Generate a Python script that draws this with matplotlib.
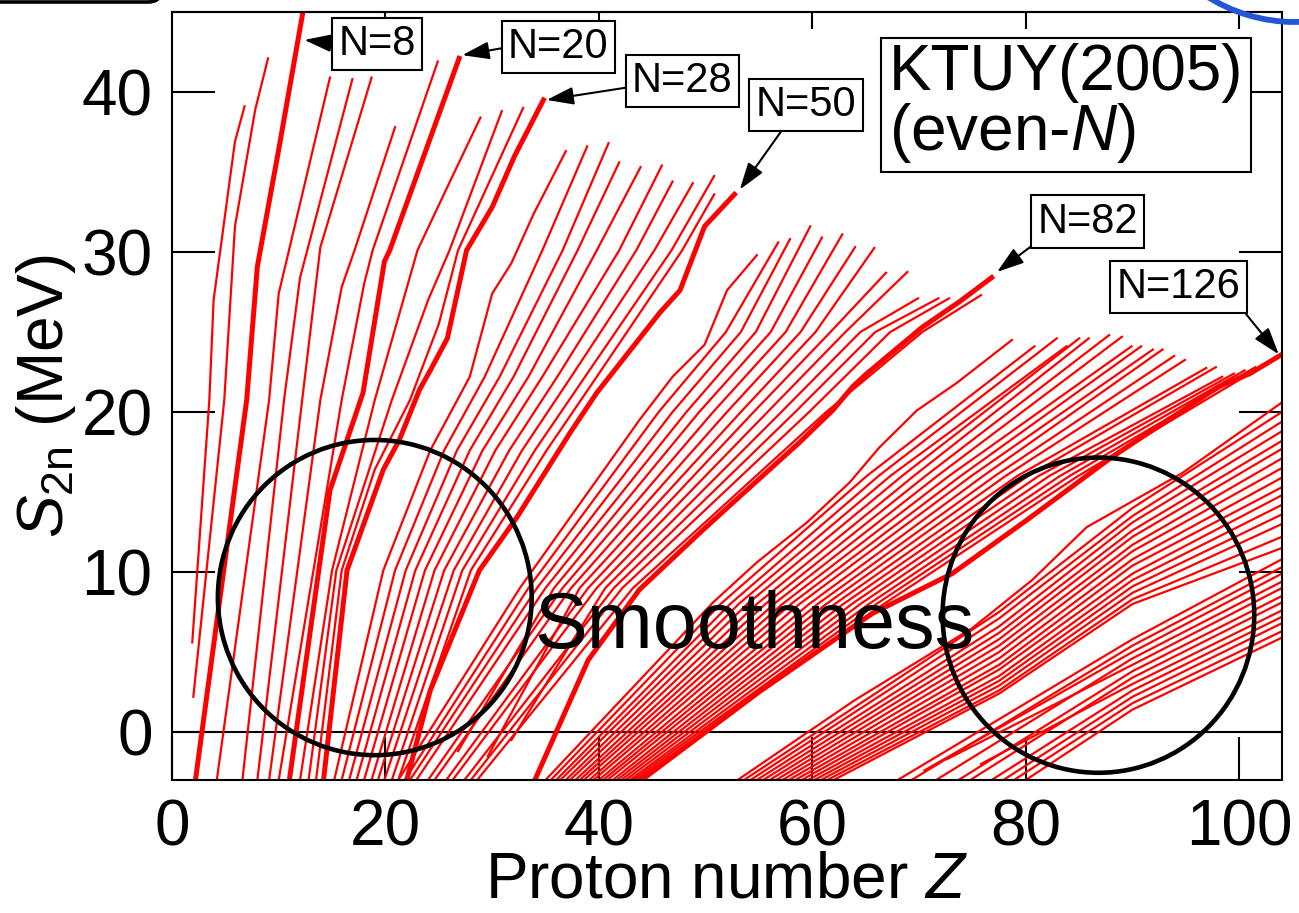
import matplotlib.pyplot as plt
from matplotlib.patches import Ellipse, Arc, FancyBboxPatch
from matplotlib.transforms import IdentityTransform

plt.rcParams['font.family'] = ['Liberation Sans', 'DejaVu Sans']
plt.rcParams['mathtext.fontset'] = 'custom'
plt.rcParams['mathtext.rm'] = 'Liberation Sans'
plt.rcParams['mathtext.it'] = 'Liberation Sans:italic'

magic = [8, 20, 28, 50, 82, 126]

# light isotones N = 4 ... 28 : (Z, S2n) vertices
light_n = [4, 6, 8, 10, 12, 14, 16, 18, 20, 22, 24, 26, 28]
light_z = [
    [1.9, 3.5, 3.9, 5.9, 6.8],
    [2.0, 4.9, 5.9, 7.8, 9.0],
    [2.2, 7.0, 8.0, 10.0, 12.4],
    [4.2, 9.1, 10.0, 14.8],
    [6.6, 10.5, 12.0, 16.9],
    [8.0, 12.2, 13.9, 18.7],
    [9.1, 13.9, 15.9, 17.1, 20.9],
    [10.0, 15.9, 18.0, 18.8, 24.9],
    [11.0, 14.8, 17.9, 19.9, 20.4, 26.9],
    [12.0, 15.0, 19.0, 23.0, 25.4, 28.9],
    [12.8, 15.4, 20.6, 24.0, 26.0, 30.9],
    [13.5, 15.9, 19.0, 22.3, 25.0, 26.8, 32.9],
    [14.2, 16.4, 19.8, 21.3, 23.2, 24.2, 25.8, 27.6, 30.0, 32.1, 34.8],
]
light_s = [
    [5.6, 20.75, 27.0, 36.9, 39.1],
    [2.2, 20.75, 31.6, 38.9, 42.1],
    [-3, 20.75, 29.1, 36.4, 45.5],
    [-3, 20.75, 27.4, 40.9],
    [-3, 20.75, 28.4, 40.8],
    [-3, 20.75, 30.3, 40.9],
    [-3, 20.75, 27.8, 30.1, 37.8],
    [-3, 20.75, 28.0, 30.1, 41.9],
    [-3, 15.1, 21.2, 29.4, 30.1, 42.1],
    [-3, 10.1, 20.75, 30.1, 33.5, 38.4],
    [-3, 10.1, 20.75, 27.0, 30.1, 38.8],
    [-3, 10.1, 16.4, 20.75, 25.5, 30.1, 39.0],
    [-3, 10.1, 16.4, 18.25, 21.4, 22.6, 24.6, 30.1, 32.8, 36.0, 39.5],
]

# N = 30 ... 50
mid_n = [30, 32, 34, 36, 38, 40, 42, 44, 46, 48, 50]
mid_z = [
    [15.2, 19.8, 24.2, 27.9, 30.0, 31.8, 33.9, 36.9],
    [15.9, 20.9, 25.5, 29.3, 34.7, 38.9],
    [16.6, 21.9, 26.7, 30.7, 36.6, 40.9],
    [17.3, 22.8, 27.9, 32.0, 38.0, 41.9],
    [18.0, 23.7, 29.1, 33.4, 39.8, 43.9],
    [18.7, 24.6, 30.3, 34.7, 41.9, 45.9],
    [19.3, 25.5, 31.6, 36.1, 43.5, 46.9],
    [19.9, 26.4, 32.8, 37.4, 45.2, 48.8],
    [20.6, 27.2, 34.0, 38.7, 46.8, 50.8],
    [21.2, 28.0, 35.1, 39.8, 47.8, 50.8],
    [22.0, 24.2, 28.8, 32.3, 37.3, 39.8, 45.7, 47.6, 49.9, 52.7],
]
mid_s = [
    [-3, 10.1, 17.6, 22.2, 27.4, 29.3, 32.4, 36.3],
    [-3, 10.1, 17.6, 22.2, 30.1, 36.6],
    [-3, 10.1, 17.6, 22.2, 30.1, 36.8],
    [-3, 10.1, 17.6, 22.2, 30.1, 35.6],
    [-3, 10.1, 17.6, 22.2, 30.1, 35.3],
    [-3, 10.1, 17.6, 22.2, 30.1, 35.4],
    [-3, 10.1, 17.6, 22.2, 30.1, 34.4],
    [-3, 10.1, 17.6, 22.2, 30.1, 34.3],
    [-3, 10.1, 17.6, 22.2, 30.1, 34.75],
    [-3, 10.1, 17.6, 22.2, 30.1, 33.6],
    [-3, 2.6, 10.1, 13.4, 18.7, 21.2, 26.2, 27.6, 31.6, 33.6],
]

# N = 52 ... 82
d1_z = [21.2, 32.6, 43.8, 46.9, 49.9, 52.0, 54.8]
d1_s = [-3, 9.0, 19.5, 22.2, 24.2, 27.6, 29.8]
n82_z = [34.0, 39.0, 43.8, 49.7, 52.5, 58.8, 61.9, 63.8, 65.1, 70.3, 73.8, 76.8]
n82_s = [-3, 4.5, 8.9, 12.6, 14.3, 18.1, 20.1, 21.6, 22.4, 25.3, 26.9, 28.4]
d_levels = [9.0, 20.0, 25.0]
d_bot_z = [21.8, 22.3, 22.9, 26.8, 24.0, 24.6, 29.6, 25.7, 26.3, 31.8, 27.4, 28.0, 28.6]
d_bot_s = [-3, -3, -3, -1.2, -3, -3, -1.5, -3, -3, -0.5, -3, -3, -3]
d_z9 = [33.4, 34.2, 35.0, 35.8, 36.6, 37.4, 38.2, 39.0, 39.8, 40.6, 41.4, 42.2, 43.2]
d_z20 = [45.6, 46.9, 48.2, 49.4, 50.7, 52.0, 53.3, 54.5, 55.8, 57.1, 58.4, 59.7, 61.3]
d_z25 = [51.9, 53.3, 54.7, 56.1, 57.5, 58.9, 60.3, 61.7, 63.1, 64.5, 65.9, 67.3, 70.3]
d_top_z = [56.8, 57.9, 59.8, 60.9, 62.8, 64.0, 65.8, 66.9, 68.9, 69.9, 71.8, 72.8, 75.8]
d_top_s = [30.6, 30.8, 31.6, 30.9, 31.1, 30.3, 30.25, 28.7, 28.75, 27.1, 27.1, 27.1, 27.3]

# N = 84 ... 126
e1_z = [35.0, 50.7, 54.8, 59.5, 63.5, 66.3, 69.8, 73.5, 78.7]
e1_s = [-3, 8.1, 10.6, 13.1, 15.6, 17.8, 20.1, 21.8, 24.5]
n126_z = [44.0, 55.0, 65.6, 73.1, 80.0, 88.1, 98.1, 101.0, 104.0]
n126_s = [-3, 2.5, 7.4, 9.9, 13.2, 17.2, 21.6, 22.4, 23.6]
e_levels = [8.0, 16.0]
e_bot_z = [35.5, 36.0, 36.4, 36.9, 37.3, 37.8, 38.2, 38.6, 39.1, 39.5,
           40.0, 40.4, 40.8, 41.3, 41.7, 42.1, 42.5, 42.9, 43.2, 43.5]
e_z8 = [51.4, 52.3, 53.1, 53.9, 54.8, 55.6, 56.4, 57.2, 58.0, 58.8,
        59.7, 60.5, 61.3, 62.1, 62.9, 63.7, 64.5, 65.3, 66.0, 66.7]
e_z16 = [65.1, 66.2, 67.3, 68.4, 69.5, 70.6, 71.7, 72.8, 73.9, 74.9,
         76.0, 77.1, 78.1, 79.2, 80.2, 81.2, 82.2, 83.2, 84.1, 84.9]
e_top_z = [80.8, 82.9, 83.8, 85.0, 85.9, 87.8, 89.0, 89.9, 90.8, 91.9,
           92.8, 93.9, 94.9, 96.9, 97.8, 98.4, 99.5, 100.5, 101.5, 102.5]
e_top_s = [24.1, 24.6, 24.1, 24.6, 24.6, 24.8, 24.7, 24.1, 24.1, 23.9,
           23.9, 23.5, 23.25, 22.75, 22.8, 22.2, 22.4, 22.6, 22.8, 23.0]

# N > 126, upper group
f1_z = [53.0, 64.0, 75.0, 80.6, 85.7, 94.7, 104.0]
f1_s = [-3, 2.0, 6.5, 9.5, 12.8, 16.2, 20.6]
f_cols = [77.5, 90.0, 104.0]
f_bot_z = [53.6, 54.2, 54.8, 55.4, 56.0, 56.6, 57.2, 57.8, 58.4, 59.0, 59.6, 60.2, 60.8, 61.4, 62.0]
f_s775 = [7.5, 7.1, 6.6, 6.2, 5.8, 5.4, 5.0, 4.6, 4.2, 3.9, 3.5, 3.2, 2.9, 2.6, 2.4]
f_s90 = [14.0, 13.5, 13.1, 12.6, 12.2, 11.7, 11.3, 10.8, 10.4, 9.9, 9.5, 9.1, 8.7, 8.3, 8.0]
f_s104 = [20.0, 19.4, 18.8, 18.2, 17.7, 17.1, 16.5, 15.9, 15.3, 14.8, 14.2, 13.6, 13.0, 12.2, 11.5]

# N > 126, lower group
g_cols = [90.0, 104.0]
g_bot_z = [68.0, 69.3, 70.5, 71.6, 72.6, 73.7, 74.8, 75.8, 76.8, 77.9, 78.9, 80.0]
g_bot_s = [-3, -3, -2.4, -3, -1.7, -3, -3, -2.0, -3, -3, -3, -3]
g_s90 = [5.8, 5.4, 5.0, 4.6, 4.2, 3.8, 3.4, 3.0, 2.6, 2.2, 1.8, 1.4]
g_s104 = [10.8, 10.3, 9.9, 9.4, 9.0, 8.5, 8.1, 7.6, 7.2, 6.8, 6.3, 5.9]

RED = '#ff0000'
THIN, THICK = 1.6, 3.6

fig = plt.figure(figsize=(12.99, 9.13), dpi=100)
ax = fig.add_axes([0.1324, 0.1457, 0.8545, 0.8412])


def iso(z, s, thick=False):
    ax.plot(z, s, color=RED, lw=THICK if thick else THIN,
            zorder=2.2 if thick else 2, solid_joinstyle='round')


for n, z, s in zip(light_n, light_z, light_s):
    iso(z, s, n in magic)
for n, z, s in zip(mid_n, mid_z, mid_s):
    iso(z, s, n in magic)

iso(d1_z, d1_s)
for i in range(len(d_top_z)):
    iso([d_bot_z[i], d_z9[i], d_z20[i], d_z25[i], d_top_z[i]],
        [d_bot_s[i]] + d_levels + [d_top_s[i]])
iso(n82_z, n82_s, True)

iso(e1_z, e1_s)
for i in range(len(e_top_z)):
    iso([e_bot_z[i], e_z8[i], e_z16[i], e_top_z[i]],
        [-3] + e_levels + [e_top_s[i]])
iso(n126_z, n126_s, True)

iso(f1_z, f1_s)
for i in range(len(f_bot_z)):
    iso([f_bot_z[i]] + f_cols, [-3, f_s775[i], f_s90[i], f_s104[i]])

for i in range(len(g_bot_z)):
    iso([g_bot_z[i]] + g_cols, [g_bot_s[i], g_s90[i], g_s104[i]])

ax.axhline(0, color='k', lw=1.5, zorder=1)

ax.set_xlim(0, 104)
ax.set_ylim(-3, 45)
ax.set_xticks([0, 20, 40, 60, 80, 100])
ax.set_yticks([0, 10, 20, 30, 40])
ax.tick_params(direction='in', length=31, width=1.5, labelsize=46, right=True, top=False)
ax.tick_params(axis='x', pad=13)
ax.tick_params(axis='y', pad=14)
for sp in ax.spines.values():
    sp.set_linewidth(1.5)
top = ax.secondary_xaxis('top')
top.set_xticks([20, 40, 60, 80, 100])
top.tick_params(direction='in', length=12, width=1.5, labeltop=False)
top.spines['top'].set_linewidth(1.5)

ax.set_ylabel(r'$S_{\rm 2n}$ (MeV)', fontsize=46)
ax.yaxis.set_label_coords(-0.085, 0.5)
ax.set_xlabel('Proton number $Z$', fontsize=46)
ax.xaxis.set_label_coords(0.5, -0.092)

# circled regions
ax.add_patch(Ellipse((19.0, 8.4), 29.4, 19.7, fill=False, ec='k', lw=3.3, zorder=4))
ax.add_patch(Ellipse((86.8, 7.3), 29.2, 19.7, fill=False, ec='k', lw=3.3, zorder=4))
ax.text(54.6, 5.25, 'Smoothness', fontsize=57, ha='center', va='baseline', zorder=5)

ax.text(83.8, 39.25, 'KTUY(2005)\n(even-$N$)', fontsize=46, ha='center', va='center',
        multialignment='left', linespacing=0.95, zorder=6,
        bbox=dict(boxstyle='square,pad=0.12', fc='white', ec='k', lw=1.5))

# magic-number labels: text, text position, arrow tip, arrow start on box
labels = ['N=8', 'N=20', 'N=28', 'N=50', 'N=82', 'N=126']
label_xy = [(19.2, 43.0), (36.2, 42.8), (47.8, 40.7), (59.4, 39.2), (85.8, 31.9), (94.3, 27.8)]
tip_xy = [(12.4, 43.25), (27.2, 42.3), (35.1, 39.5), (53.2, 33.9), (77.3, 28.75), (103.7, 23.6)]
tail_rel = [(0, 0.5), (0, 0.5), (0, 0.35), (0.3, 0), (0, 0), (1, 0)]
for txt, pos, tip, rel in zip(labels, label_xy, tip_xy, tail_rel):
    ax.annotate(txt, xy=tip, xytext=pos, fontsize=30, ha='center', va='center', zorder=6,
                bbox=dict(boxstyle='square,pad=0.15', fc='white', ec='k', lw=1.5),
                arrowprops=dict(arrowstyle='-|>,head_length=0.55,head_width=0.18',
                                color='k', lw=1.5, shrinkA=0, shrinkB=0, relpos=rel))

# slide frame remnants at the top corners
fig.add_artist(FancyBboxPatch((-60, 911), 222, 60, boxstyle='round,pad=0,rounding_size=14',
                              fc='none', ec='k', lw=2.6, transform=IdentityTransform()))
fig.add_artist(Arc((1295, 1055), 328, 328, theta1=232, theta2=300, color='#2456d8', lw=4.2,
                   transform=IdentityTransform()))

fig.savefig('out.png', dpi=100)
